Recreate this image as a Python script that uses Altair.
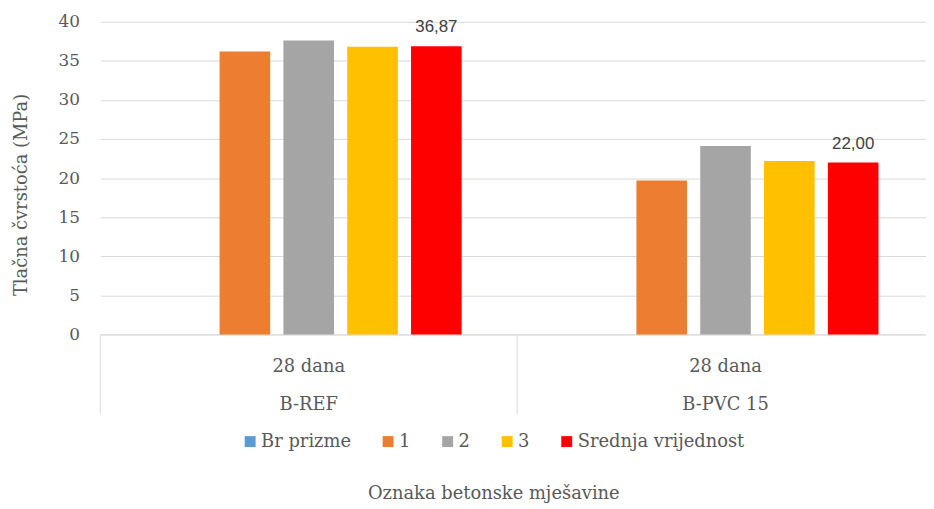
import altair as alt
import pandas as pd

# ---- data ----
groups = ["B-REF", "B-PVC 15"]
sub_label = "28 dana"
series = ["Br prizme", "1", "2", "3", "Srednja vrijednost"]
colors = ["#5B9BD5", "#ED7D31", "#A5A5A5", "#FFC000", "#FF0000"]
vals_1 = [36.2, 19.7]
vals_2 = [37.6, 24.1]
vals_3 = [36.8, 22.2]
vals_mean = [36.87, 22.00]
y_ticks = [0, 5, 10, 15, 20, 25, 30, 35, 40]

rows = []
for i, g in enumerate(groups):
    for s, v in zip(series[1:], [vals_1[i], vals_2[i], vals_3[i], vals_mean[i]]):
        rows.append({"grupa": g, "serija": s, "vrijednost": v})
df = pd.DataFrame(rows)
div_df = pd.DataFrame({"grupa": groups})

W, H = 832, 315
FONT = "DejaVu Serif"
TXT = "#595959"
GRID = "#D9D9D9"

# the original plot area runs past the right edge of the picture
x_scale = alt.Scale(domain=groups, paddingInner=0, paddingOuter=0, range=[0, 840])
xo_scale = alt.Scale(domain=series, paddingInner=0.207, paddingOuter=0.869)
y_scale = alt.Scale(domain=[0, 40])

x_axis = alt.Axis(
    title="Oznaka betonske mješavine",
    labelExpr="['" + sub_label + "', datum.label]",
    labelAngle=0, labelBaseline="top", labelPadding=23, labelLineHeight=39,
    labelFont=FONT, labelFontSize=18, labelColor=TXT,
    ticks=False, domainColor=GRID, domainWidth=1,
    titleFont=FONT, titleFontSize=18, titleColor=TXT, titleFontWeight="normal",
    titleX=396, titleY=165, titleBaseline="alphabetic",
)

y_axis = alt.Axis(
    values=y_ticks, tickCount=9, labelOverlap=False, title="Tlačna čvrstoća  (MPa)",
    grid=True, gridColor=GRID, gridWidth=1, domain=False, ticks=False,
    labelPadding=21, labelFont=FONT, labelFontSize=17, labelColor=TXT,
    titleFont=FONT, titleFontSize=18, titleColor=TXT, titleFontWeight="normal",
    titleX=-79, titleY=174, titleBaseline="middle",
)

x_enc = alt.X("grupa:N", scale=x_scale, sort=groups, axis=x_axis)
y_enc = alt.Y("vrijednost:Q", scale=y_scale, axis=y_axis)
xo_enc = alt.XOffset("serija:N", scale=xo_scale, sort=series)

bars = alt.Chart(df).mark_bar().encode(
    x=x_enc,
    xOffset=xo_enc,
    y=y_enc,
    color=alt.Color(
        "serija:N", sort=series,
        scale=alt.Scale(domain=series, range=colors),
        legend=alt.Legend(
            title=None, orient="none", legendX=142, legendY=414,
            direction="horizontal", symbolType="square", symbolSize=121,
            symbolStrokeWidth=0, labelFont=FONT, labelFontSize=18,
            labelColor=TXT, labelOffset=2, columnPadding=28, padding=0,
            labelLimit=400,
        ),
    ),
)

labels = alt.Chart(df).transform_filter(
    "datum.serija == 'Srednja vrijednost'"
).transform_calculate(
    lbl="replace(format(datum.vrijednost, '.2f'), '.', ',')"
).mark_text(
    dy=-14, baseline="alphabetic", font="Liberation Sans", fontSize=17, color="#404040"
).encode(
    x=x_enc,
    xOffset=xo_enc,
    y=y_enc,
    text="lbl:N",
)

dividers = alt.Chart(div_df).mark_rule(color=GRID, strokeWidth=1).encode(
    x=alt.X("grupa:N", scale=x_scale, sort=groups, bandPosition=0, axis=x_axis),
    y=alt.value(H),
    y2=alt.value(H + 80),
)

chart = alt.layer(bars, labels, dividers).properties(
    width=W, height=H,
    autosize=alt.AutoSizeParams(type="none"),
    padding={"left": 93, "top": 12, "right": 0, "bottom": 170},
    background="white",
).configure_view(stroke=None)

chart.save("out.html", embed_options={"renderer": "svg", "actions": False})
